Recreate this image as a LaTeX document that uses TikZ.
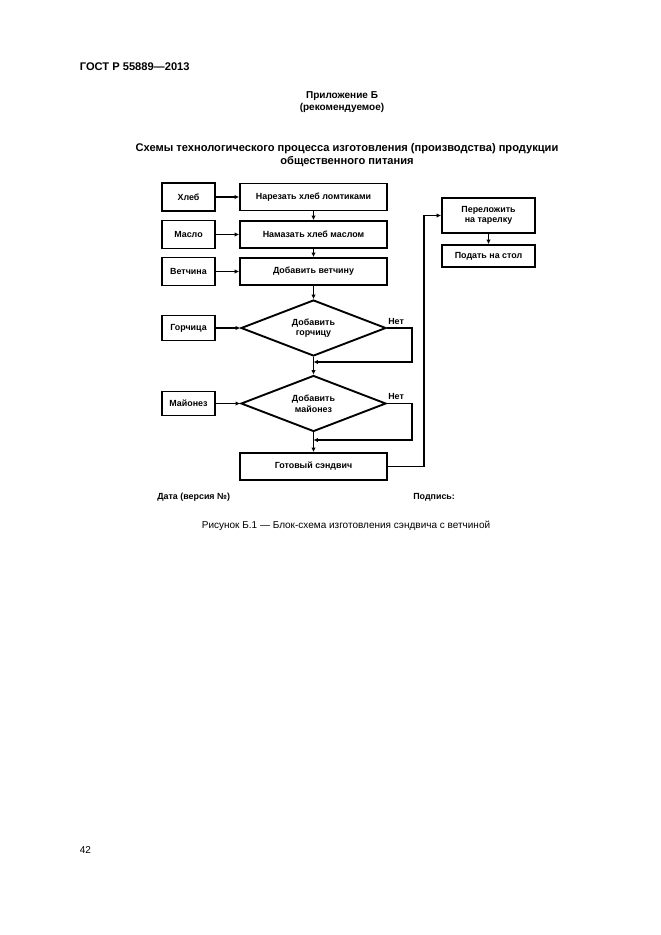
\documentclass[tikz,border=0pt]{standalone}
\usepackage{fontspec}
\setmainfont{Liberation Sans}
\usetikzlibrary{arrows.meta,shapes.geometric}

\begin{document}
\begin{tikzpicture}[x=0.9pt,y=-0.9pt,
		box/.style={draw,line width=1.7pt,minimum width=132.3pt,minimum height=24.3pt,inner sep=1pt,font=\fontsize{8}{9.5}\selectfont\bfseries},
		sidebox/.style={box,minimum width=47.7pt,minimum height=25.2pt},
		decision/.style={draw,diamond,aspect=2.6,line width=1.7pt,minimum width=130.5pt,minimum height=50.4pt,inner sep=0pt,align=center,font=\fontsize{8}{9.5}\selectfont\bfseries},
		arr/.style={line width=1.5pt,-{Latex[length=4pt,width=4pt]}},
		lbl/.style={font=\fontsize{8}{9}\selectfont\bfseries,inner sep=1pt}]
		\useasboundingbox (0,0) rectangle (661,935);
		% page text
		\node[anchor=west,font=\fontsize{10}{12}\selectfont\bfseries] (gost) at (76,67) {ГОСТ Р 55889—2013};
		\node[align=center,font=\fontsize{9}{10.8}\selectfont\bfseries] (annex) at (342,102) {Приложение Б\\(рекомендуемое)};
		\node[align=center,font=\fontsize{10}{11}\selectfont\bfseries] (title) at (347,155) {Схемы технологического процесса изготовления (производства) продукции\\общественного питания};
		% main column
		\node[box] (cut) at (313.5,197) {Нарезать хлеб ломтиками};
		\node[box] (spread) at (313.5,234.5) {Намазать хлеб маслом};
		\node[box] (addham) at (313.5,271.5) {Добавить ветчину};
		\node[decision] (mustq) at (313.5,328) {Добавить\\горчицу};
		\node[decision] (mayoq) at (313.5,403.5) {Добавить\\майонез};
		\node[box] (ready) at (313.5,466.5) {Готовый сэндвич};
		% ingredients
		\node[sidebox] (bread) at (188.5,197) {Хлеб};
		\node[sidebox] (butter) at (188.5,234.5) {Масло};
		\node[sidebox] (ham) at (188.5,271.5) {Ветчина};
		\node[sidebox,minimum height=22.5pt] (mustard) at (188.5,328) {Горчица};
		\node[sidebox,minimum height=21.6pt] (mayo) at (188.5,403.5) {Майонез};
		% serving
		\node[box,minimum width=83.7pt,minimum height=31.5pt,align=center] (plate) at (488.5,215.5) {Переложить\\на тарелку};
		\node[box,minimum width=83.7pt,minimum height=19.8pt] (serve) at (488.5,256) {Подать на стол};
		\coordinate (j1) at (313.5,362);
		\coordinate (j2) at (313.5,440);
		\draw[arr] (bread) -- (cut);
		\draw[arr] (butter) -- (spread);
		\draw[arr] (ham) -- (addham);
		\draw[arr] (mustard) -- (mustq);
		\draw[arr] (mayo) -- (mayoq);
		\draw[arr] (cut) -- (spread);
		\draw[arr] (spread) -- (addham);
		\draw[arr] (addham.south) -- (mustq.north);
		\draw[arr] (mustq.south) -- (mayoq.north);
		\draw[arr] (mayoq.south) -- (ready.north);
		\draw[arr] (mustq.east) -- ++(25,0) |- (j1);
		\draw[arr] (mayoq.east) -- ++(25,0) |- (j2);
		\node[lbl,anchor=south west,yshift=2pt] (no1) at (mustq.east) {Нет};
		\node[lbl,anchor=south west,yshift=2pt] (no2) at (mayoq.east) {Нет};
		\draw[arr] (ready.east) -- ++(36,0) |- (plate.west);
		\draw[arr] (plate) -- (serve);
		% signatures and caption
		\node[lbl,anchor=west] (date) at (156,497) {Дата (версия №)};
		\node[lbl,anchor=west] (sign) at (412,497) {Подпись:};
		\node[font=\fontsize{9}{11}\selectfont] (caption) at (346,526) {Рисунок Б.1 — Блок-схема изготовления сэндвича с ветчиной};
		\node[anchor=west,font=\fontsize{9}{11}\selectfont] (page) at (76,850) {42};
	\end{tikzpicture}
\end{document}
